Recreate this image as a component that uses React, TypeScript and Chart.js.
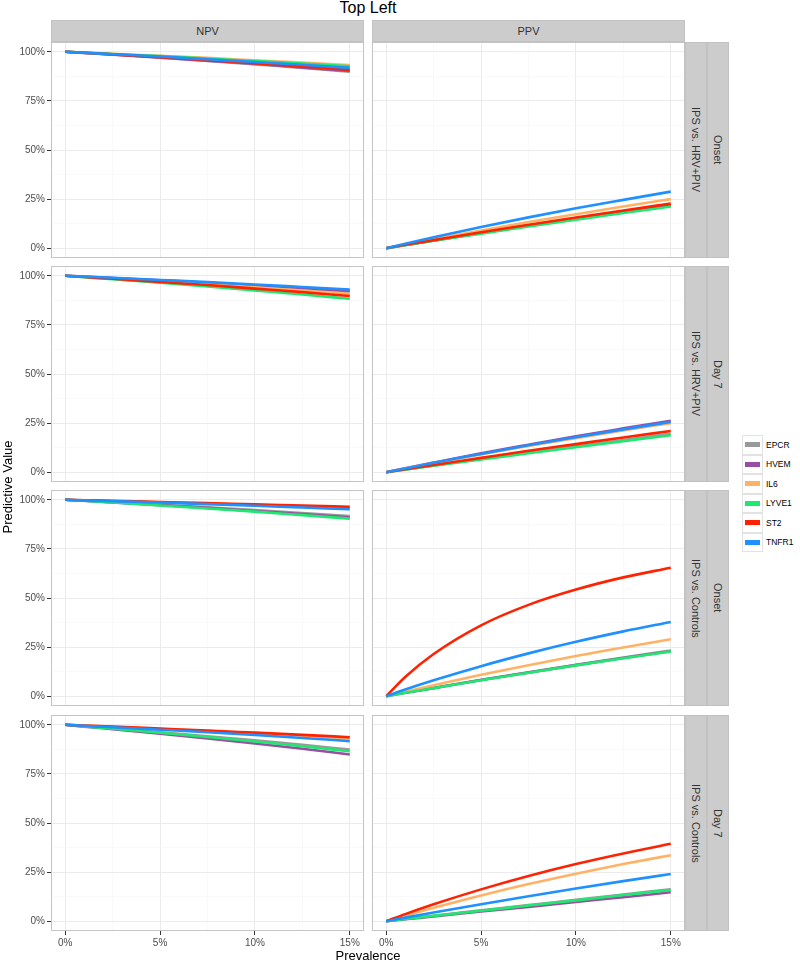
import React, { useEffect, useRef } from "react";
import { Chart, registerables } from "chart.js";
Chart.register(...registerables);

// ---------- data ----------
const prevalence = [0, 1, 2.5, 5, 7.5, 10, 12.5, 15];
const markers = ["EPCR", "HVEM", "IL6", "LYVE1", "ST2", "TNFR1"];
const markerColors = ["#999999", "#984EA3", "#FFB266", "#1EE870", "#FF2200", "#1E90FF"];
const columnLabels = ["NPV", "PPV"];
const comparisonLabels = ["IPS vs. HRV+PIV", "IPS vs. HRV+PIV", "IPS vs. Controls", "IPS vs. Controls"];
const timeLabels = ["Onset", "Day 7", "Onset", "Day 7"];
const yTickValues = [0, 12.5, 25, 37.5, 50, 62.5, 75, 87.5, 100];
const xTickValues = [0, 2.5, 5, 7.5, 10, 12.5, 15];

// order of rows in each panel: EPCR, HVEM, IL6, LYVE1, ST2, TNFR1
const npvOnsetHrv = [
  [100, 99.4, 98.5, 97.0, 95.4, 93.6, 91.8, 89.9],
  [100, 99.4, 98.6, 97.1, 95.5, 93.9, 92.1, 90.3],
  [100, 99.6, 99.0, 98.0, 96.9, 95.7, 94.5, 93.2],
  [100, 99.6, 98.9, 97.8, 96.6, 95.3, 94.0, 92.6],
  [100, 99.5, 98.7, 97.3, 95.8, 94.2, 92.5, 90.8],
  [100, 99.5, 98.8, 97.6, 96.2, 94.8, 93.4, 91.8],
];
const ppvOnsetHrv = [
  [0, 1.6, 3.9, 7.6, 11.3, 14.9, 18.4, 21.8],
  [0, 1.6, 3.9, 7.7, 11.4, 15.1, 18.6, 22.0],
  [0, 1.9, 4.6, 9.0, 13.3, 17.3, 21.2, 25.0],
  [0, 1.5, 3.8, 7.4, 11.0, 14.5, 17.9, 21.2],
  [0, 1.7, 4.1, 8.1, 11.9, 15.6, 19.2, 22.7],
  [0, 2.3, 5.6, 10.8, 15.7, 20.3, 24.6, 28.8],
];
const npvDay7Hrv = [
  [100, 99.5, 98.8, 97.5, 96.1, 94.7, 93.2, 91.6],
  [100, 99.6, 98.9, 97.7, 96.5, 95.2, 93.8, 92.4],
  [100, 99.5, 98.7, 97.3, 95.8, 94.2, 92.5, 90.8],
  [100, 99.3, 98.3, 96.5, 94.6, 92.6, 90.5, 88.3],
  [100, 99.4, 98.5, 96.9, 95.3, 93.5, 91.7, 89.7],
  [100, 99.6, 99.0, 97.9, 96.8, 95.6, 94.3, 93.0],
];
const ppvDay7Hrv = [
  [0, 1.4, 3.4, 6.7, 10.0, 13.2, 16.4, 19.5],
  [0, 2.0, 4.9, 9.6, 14.0, 18.3, 22.3, 26.2],
  [0, 1.9, 4.6, 9.0, 13.3, 17.3, 21.2, 25.0],
  [0, 1.3, 3.3, 6.5, 9.6, 12.7, 15.8, 18.8],
  [0, 1.5, 3.7, 7.3, 10.9, 14.3, 17.7, 21.0],
  [0, 1.9, 4.8, 9.3, 13.7, 17.8, 21.8, 25.6],
];
const npvOnsetControls = [
  [100, 99.5, 98.8, 97.5, 96.2, 94.8, 93.3, 91.7],
  [100, 99.5, 98.7, 97.3, 95.9, 94.3, 92.7, 91.0],
  [100, 99.8, 99.4, 98.7, 98.1, 97.4, 96.6, 95.8],
  [100, 99.5, 98.6, 97.1, 95.6, 94.0, 92.2, 90.4],
  [100, 99.8, 99.5, 98.9, 98.3, 97.7, 97.1, 96.4],
  [100, 99.7, 99.3, 98.6, 97.8, 97.0, 96.1, 95.2],
];
const ppvOnsetControls = [
  [0, 1.7, 4.2, 8.3, 12.2, 16.0, 19.7, 23.3],
  [0, 1.7, 4.1, 8.2, 12.0, 15.8, 19.4, 22.9],
  [0, 2.3, 5.6, 10.9, 15.8, 20.5, 24.8, 29.0],
  [0, 1.7, 4.1, 8.1, 11.9, 15.7, 19.3, 22.8],
  [0, 9.8, 21.5, 36.1, 46.5, 54.3, 60.5, 65.4],
  [0, 3.4, 8.1, 15.3, 21.8, 27.7, 33.0, 37.8],
];
const npvDay7Controls = [
  [100, 99.3, 98.2, 96.2, 94.2, 92.1, 89.8, 87.4],
  [100, 99.1, 97.8, 95.5, 93.1, 90.5, 87.8, 84.9],
  [100, 99.6, 99.0, 97.9, 96.8, 95.7, 94.4, 93.1],
  [100, 99.2, 98.0, 96.0, 93.8, 91.5, 89.1, 86.5],
  [100, 99.6, 99.1, 98.1, 97.1, 96.0, 94.9, 93.7],
  [100, 99.5, 98.8, 97.5, 96.2, 94.8, 93.3, 91.7],
];
const ppvDay7Controls = [
  [0, 1.1, 2.8, 5.5, 8.2, 10.9, 13.6, 16.3],
  [0, 1.0, 2.4, 4.9, 7.3, 9.8, 12.2, 14.7],
  [0, 2.8, 6.8, 13.1, 18.9, 24.2, 29.1, 33.6],
  [0, 1.1, 2.7, 5.3, 8.0, 10.6, 13.3, 15.9],
  [0, 3.6, 8.6, 16.2, 23.0, 29.1, 34.5, 39.4],
  [0, 1.8, 4.4, 8.6, 12.7, 16.6, 20.4, 24.0],
];

const panelData = [
  [npvOnsetHrv, ppvOnsetHrv],
  [npvDay7Hrv, ppvDay7Hrv],
  [npvOnsetControls, ppvOnsetControls],
  [npvDay7Controls, ppvDay7Controls],
];

// ---------- layout ----------
const FONT = "'Liberation Sans', Arial, Helvetica, sans-serif";
const colLeft = [51, 372];
const colWidth = 313;
const rowTop = [42, 266, 490, 715];
const rowHeight = 216;
const PAGE_H = 962;

function Panel({ row, col }: { row: number; col: number }) {
  const ref = useRef<HTMLCanvasElement | null>(null);
  const isLeft = col === 0;
  const isBottom = row === 3;
  const pLeft = colLeft[col];
  const pTop = rowTop[row];
  const padT = 10;
  const padB = isBottom ? PAGE_H - (pTop + rowHeight) : 10;
  const padL = isLeft ? pLeft : 4;
  const padR = 4;
  const cw = colWidth + padL + padR;
  const ch = rowHeight + padT + padB;

  useEffect(() => {
    if (!ref.current) return;
    const series = panelData[row][col];
    const chart = new Chart(ref.current, {
      type: "line",
      data: {
        datasets: markers.map((m, i) => ({
          label: m,
          data: prevalence.map((p, j) => ({ x: p, y: series[i][j] })),
          borderColor: markerColors[i],
          backgroundColor: markerColors[i],
          borderWidth: 2.6,
          pointRadius: 0,
          cubicInterpolationMode: "monotone" as const,
          fill: false,
          order: markers.length - 1 - i,
        })),
      },
      options: {
        animation: false,
        responsive: false,
        maintainAspectRatio: false,
        events: [],
        layout: {
          padding: {
            top: padT,
            right: padR,
            left: isLeft ? 0 : padL,
            bottom: isBottom ? 0 : padB,
          },
        },
        plugins: { legend: { display: false }, tooltip: { enabled: false }, title: { display: false } },
        scales: {
          x: {
            type: "linear",
            min: -0.75,
            max: 15.75,
            afterBuildTicks: (s: any) => {
              s.ticks = xTickValues.map((v) => ({ value: v }));
            },
            afterFit: (s: any) => {
              s.height = isBottom ? padB : 0;
            },
            border: { display: false },
            grid: {
              color: (c: any) => (c.tick && c.tick.value % 5 === 0 ? "#EBEBEB" : "#F5F5F5"),
              lineWidth: (c: any) => (c.tick && c.tick.value % 5 === 0 ? 1 : 0.6),
              drawTicks: isBottom,
              tickLength: 4,
              tickColor: (c: any) => (c.tick && c.tick.value % 5 === 0 ? "#333333" : "rgba(0,0,0,0)"),
              tickWidth: 1,
            },
            ticks: {
              display: isBottom,
              autoSkip: false,
              maxRotation: 0,
              padding: 2,
              color: "#4D4D4D",
              font: { family: FONT, size: 10 },
              callback: (v: any) => (Number(v) % 5 === 0 ? `${v}%` : ""),
            },
          },
          y: {
            type: "linear",
            min: -5,
            max: 105,
            afterBuildTicks: (s: any) => {
              s.ticks = yTickValues.map((v) => ({ value: v }));
            },
            afterFit: (s: any) => {
              s.width = isLeft ? padL : 0;
            },
            border: { display: false },
            grid: {
              color: (c: any) => (c.tick && c.tick.value % 25 === 0 ? "#EBEBEB" : "#F5F5F5"),
              lineWidth: (c: any) => (c.tick && c.tick.value % 25 === 0 ? 1 : 0.6),
              drawTicks: isLeft,
              tickLength: 4,
              tickColor: (c: any) => (c.tick && c.tick.value % 25 === 0 ? "#333333" : "rgba(0,0,0,0)"),
              tickWidth: 1,
            },
            ticks: {
              display: isLeft,
              autoSkip: false,
              padding: 2,
              color: "#4D4D4D",
              font: { family: FONT, size: 10 },
              callback: (v: any) => (Number(v) % 25 === 0 ? `${v}%` : ""),
            },
          },
        },
      },
    });
    return () => chart.destroy();
  }, [row, col]);

  return (
    <>
      <canvas
        ref={ref}
        width={cw}
        height={ch}
        style={{ position: "absolute", left: pLeft - padL, top: pTop - padT, width: cw, height: ch }}
      />
      <div
        style={{
          position: "absolute",
          left: pLeft,
          top: pTop,
          width: colWidth,
          height: rowHeight,
          boxSizing: "border-box",
          border: "1px solid #C4C4C4",
          pointerEvents: "none",
        }}
      />
    </>
  );
}

const stripText: React.CSSProperties = {
  position: "absolute",
  background: "#CCCCCC",
  color: "#333333",
  fontFamily: FONT,
  fontSize: 11,
  display: "flex",
  alignItems: "center",
  justifyContent: "center",
  boxSizing: "border-box",
  border: "1px solid #C2C2C2",
};

export default function App() {
  return (
    <div style={{ position: "absolute", left: 0, top: 0, width: 800, height: 962, background: "#FFFFFF", overflow: "hidden" }}>
      <div
        style={{
          position: "absolute",
          left: 0,
          width: 736,
          top: 0,
          height: 16,
          lineHeight: "16px",
          textAlign: "center",
          fontFamily: FONT,
          fontSize: 16,
          color: "#000",
        }}
      >
        Top Left
      </div>

      {columnLabels.map((lab, c) => (
        <div key={lab} style={{ ...stripText, left: colLeft[c], top: 20, width: colWidth, height: 22 }}>
          {lab}
        </div>
      ))}

      {rowTop.map((t, r) => (
        <React.Fragment key={r}>
          <div
            style={{
              ...stripText,
              left: 685,
              top: t,
              width: 22,
              height: rowHeight,
              writingMode: "vertical-rl",
            }}
          >
            {comparisonLabels[r]}
          </div>
          <div
            style={{
              ...stripText,
              left: 707,
              top: t,
              width: 22,
              height: rowHeight,
              writingMode: "vertical-rl",
            }}
          >
            {timeLabels[r]}
          </div>
        </React.Fragment>
      ))}

      {rowTop.map((_, r) =>
        columnLabels.map((_, c) => <Panel key={`${r}-${c}`} row={r} col={c} />)
      )}

      <div
        style={{
          position: "absolute",
          left: colLeft[0],
          width: colLeft[1] + colWidth - colLeft[0],
          top: 948,
          height: 16,
          lineHeight: "16px",
          textAlign: "center",
          fontFamily: FONT,
          fontSize: 13,
          color: "#000",
        }}
      >
        Prevalence
      </div>
      <div
        style={{
          position: "absolute",
          left: 7.5 - 100,
          top: 487 - 8,
          width: 200,
          height: 16,
          lineHeight: "16px",
          textAlign: "center",
          fontFamily: FONT,
          fontSize: 13,
          color: "#000",
          transform: "rotate(-90deg)",
        }}
      >
        Predictive Value
      </div>

      <div style={{ position: "absolute", left: 742, top: 435 }}>
        {markers.map((m, i) => (
          <div key={m} style={{ position: "relative", height: 19.5, display: "flex", alignItems: "center" }}>
            <div
              style={{
                width: 21,
                height: 19.5,
                boxSizing: "border-box",
                border: "1px solid #E2E2E2",
                background: "#FFFFFF",
                display: "flex",
                alignItems: "center",
                justifyContent: "center",
              }}
            >
              <div style={{ width: 15, height: 5, background: markerColors[i] }} />
            </div>
            <div style={{ marginLeft: 3, fontFamily: FONT, fontSize: 8.5, color: "#000" }}>{m}</div>
          </div>
        ))}
      </div>
    </div>
  );
}
